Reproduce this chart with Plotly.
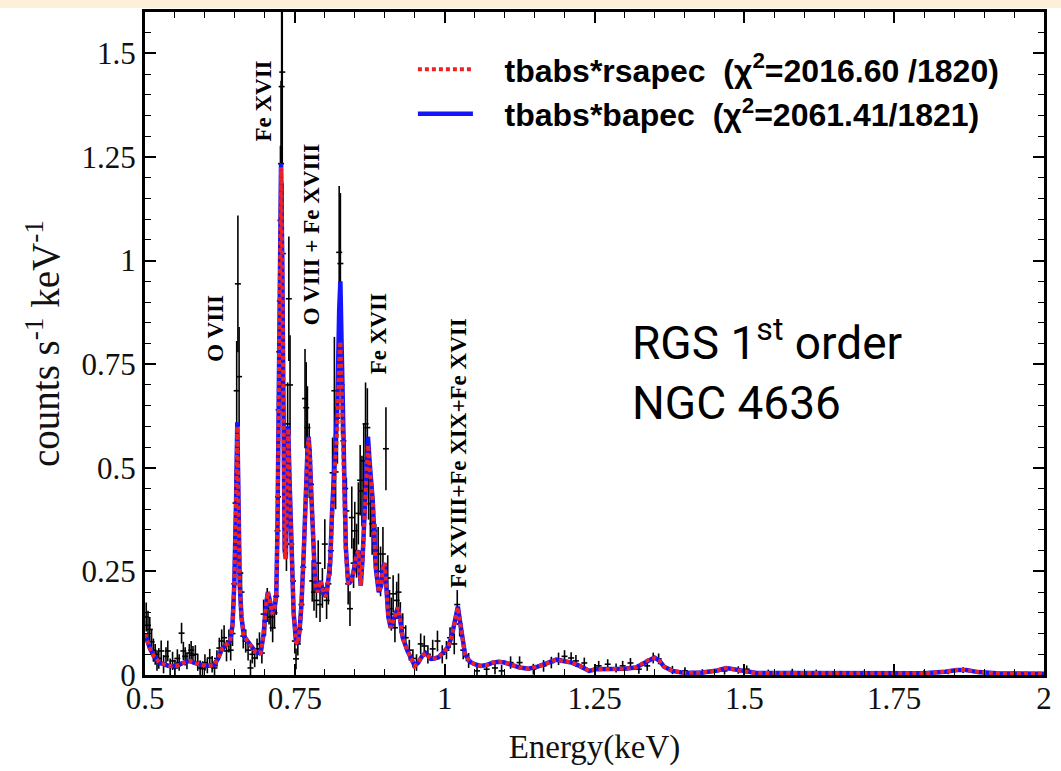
import plotly.graph_objects as go

# ---------------- data ----------------
model_energy = [0.500, 0.508, 0.515, 0.525, 0.540, 0.553, 0.565, 0.574, 0.585, 0.603,
                0.615, 0.622, 0.628, 0.636, 0.642, 0.646, 0.649, 0.652, 0.654, 0.656,
                0.658, 0.661, 0.665, 0.672, 0.680, 0.685, 0.693, 0.698, 0.702, 0.705,
                0.709, 0.712, 0.716, 0.719, 0.721, 0.723, 0.725, 0.727, 0.729, 0.731,
                0.733, 0.735, 0.737, 0.739, 0.741, 0.744, 0.748, 0.752, 0.755, 0.758,
                0.761, 0.765, 0.768, 0.771, 0.773, 0.775, 0.778, 0.781, 0.784, 0.788,
                0.793, 0.798, 0.802, 0.806, 0.809, 0.812, 0.815, 0.818, 0.821, 0.824,
                0.826, 0.828, 0.831, 0.835, 0.839, 0.844, 0.848, 0.852, 0.856, 0.860,
                0.863, 0.867, 0.870, 0.872, 0.875, 0.880, 0.885, 0.890, 0.894, 0.897,
                0.900, 0.903, 0.906, 0.910, 0.915, 0.919, 0.922, 0.926, 0.930, 0.938,
                0.945, 0.950, 0.956, 0.962, 0.968, 0.973, 0.977, 0.983, 0.990, 0.998,
                1.006, 1.012, 1.016, 1.020, 1.022, 1.025, 1.029, 1.034, 1.042, 1.050,
                1.060, 1.070, 1.080, 1.090, 1.100, 1.112, 1.125, 1.140, 1.155, 1.170,
                1.186, 1.200, 1.212, 1.225, 1.241, 1.252, 1.270, 1.285, 1.300, 1.319,
                1.332, 1.342, 1.350, 1.358, 1.366, 1.380, 1.400, 1.430, 1.455, 1.470,
                1.485, 1.500, 1.520, 1.560, 1.600, 1.650, 1.700, 1.750, 1.800, 1.835,
                1.855, 1.870, 1.890, 1.920, 1.960, 2.000]

model_rsapec = [0.099, 0.065, 0.045, 0.029, 0.022, 0.022, 0.030, 0.034, 0.028, 0.022,
                0.024, 0.040, 0.062, 0.075, 0.082, 0.120, 0.220, 0.420, 0.600, 0.420,
                0.220, 0.140, 0.094, 0.080, 0.062, 0.055, 0.053, 0.100, 0.170, 0.200,
                0.175, 0.147, 0.160, 0.190, 0.350, 0.600, 0.950, 1.225, 1.000, 0.600,
                0.300, 0.280, 0.450, 0.595, 0.480, 0.300, 0.150, 0.080, 0.075, 0.110,
                0.170, 0.300, 0.437, 0.540, 0.573, 0.530, 0.420, 0.300, 0.220, 0.200,
                0.227, 0.195, 0.190, 0.230, 0.270, 0.380, 0.460, 0.500, 0.600, 0.760,
                0.805, 0.700, 0.500, 0.300, 0.220, 0.227, 0.250, 0.283, 0.300, 0.215,
                0.280, 0.420, 0.530, 0.555, 0.500, 0.420, 0.260, 0.200, 0.215, 0.260,
                0.270, 0.200, 0.140, 0.114, 0.135, 0.155, 0.163, 0.130, 0.090, 0.058,
                0.035, 0.022, 0.030, 0.045, 0.053, 0.045, 0.039, 0.040, 0.043, 0.055,
                0.068, 0.095, 0.125, 0.160, 0.163, 0.135, 0.090, 0.050, 0.032, 0.026,
                0.022, 0.024, 0.030, 0.032, 0.030, 0.024, 0.018, 0.015, 0.020, 0.028,
                0.037, 0.033, 0.030, 0.022, 0.010, 0.014, 0.014, 0.013, 0.015, 0.018,
                0.028, 0.038, 0.041, 0.035, 0.020, 0.010, 0.005, 0.006, 0.011, 0.017,
                0.013, 0.008, 0.005, 0.005, 0.005, 0.004, 0.003, 0.003, 0.004, 0.008,
                0.012, 0.012, 0.007, 0.004, 0.003, 0.003]

model_bapec = [0.099, 0.065, 0.045, 0.029, 0.022, 0.022, 0.030, 0.034, 0.028, 0.022,
               0.024, 0.040, 0.062, 0.075, 0.082, 0.120, 0.220, 0.425, 0.610, 0.425,
               0.220, 0.140, 0.094, 0.080, 0.062, 0.055, 0.053, 0.100, 0.170, 0.200,
               0.175, 0.147, 0.160, 0.190, 0.350, 0.605, 0.960, 1.235, 1.005, 0.600,
               0.300, 0.280, 0.450, 0.600, 0.480, 0.300, 0.150, 0.080, 0.075, 0.110,
               0.170, 0.300, 0.437, 0.540, 0.575, 0.530, 0.420, 0.300, 0.220, 0.200,
               0.227, 0.195, 0.190, 0.230, 0.270, 0.390, 0.480, 0.520, 0.650, 0.880,
               0.950, 0.800, 0.550, 0.310, 0.220, 0.227, 0.250, 0.283, 0.300, 0.215,
               0.280, 0.425, 0.545, 0.575, 0.510, 0.420, 0.260, 0.200, 0.215, 0.260,
               0.270, 0.200, 0.140, 0.114, 0.135, 0.155, 0.163, 0.130, 0.090, 0.058,
               0.035, 0.022, 0.030, 0.045, 0.053, 0.045, 0.039, 0.040, 0.043, 0.055,
               0.068, 0.095, 0.125, 0.160, 0.165, 0.135, 0.090, 0.050, 0.032, 0.026,
               0.022, 0.024, 0.030, 0.032, 0.030, 0.024, 0.018, 0.015, 0.020, 0.028,
               0.037, 0.033, 0.030, 0.022, 0.010, 0.014, 0.014, 0.013, 0.015, 0.018,
               0.028, 0.038, 0.042, 0.035, 0.020, 0.010, 0.005, 0.006, 0.011, 0.017,
               0.013, 0.008, 0.005, 0.005, 0.005, 0.004, 0.003, 0.003, 0.004, 0.008,
               0.012, 0.012, 0.007, 0.004, 0.003, 0.003]

data_energy = [0.502, 0.505, 0.508, 0.511, 0.514, 0.517, 0.520, 0.523, 0.527, 0.531,
               0.535, 0.538, 0.542, 0.546, 0.550, 0.554, 0.557, 0.561, 0.564, 0.567,
               0.570, 0.574, 0.577, 0.580, 0.584, 0.588, 0.592, 0.596, 0.600, 0.604,
               0.608, 0.612, 0.616, 0.620, 0.624, 0.628, 0.632, 0.636, 0.640, 0.643,
               0.646, 0.649, 0.651, 0.653, 0.655, 0.657, 0.659, 0.661, 0.664, 0.668,
               0.672, 0.676, 0.679, 0.683, 0.687, 0.691, 0.695, 0.698, 0.701, 0.704,
               0.707, 0.710, 0.713, 0.716, 0.719, 0.721, 0.722, 0.723, 0.724, 0.725,
               0.726, 0.727, 0.728, 0.729, 0.730, 0.732, 0.734, 0.736, 0.738, 0.740,
               0.742, 0.744, 0.747, 0.750, 0.752, 0.755, 0.758, 0.761, 0.764, 0.767,
               0.769, 0.771, 0.774, 0.777, 0.779, 0.782, 0.786, 0.789, 0.792, 0.796,
               0.800, 0.803, 0.806, 0.810, 0.813, 0.816, 0.818, 0.821, 0.824, 0.826,
               0.828, 0.831, 0.834, 0.836, 0.839, 0.842, 0.845, 0.848, 0.850, 0.853,
               0.856, 0.859, 0.862, 0.865, 0.868, 0.871, 0.873, 0.876, 0.879, 0.882,
               0.885, 0.889, 0.893, 0.897, 0.902, 0.905, 0.908, 0.911, 0.914, 0.917,
               0.920, 0.923, 0.926, 0.930, 0.935, 0.941, 0.947, 0.953, 0.960, 0.966,
               0.972, 0.980, 0.988, 0.996, 1.003, 1.009, 1.016, 1.021, 1.025, 1.031,
               1.040, 1.054, 1.070, 1.084, 1.095, 1.110, 1.125, 1.148, 1.165, 1.178,
               1.190, 1.200, 1.211, 1.219, 1.233, 1.257, 1.272, 1.286, 1.297, 1.310,
               1.324, 1.338, 1.348, 1.357, 1.380, 1.401, 1.430, 1.467, 1.490, 1.504,
               1.540, 1.580, 1.620, 1.660, 1.700, 1.750, 1.800, 1.840, 1.865, 1.900,
               1.950, 1.990]

data_rate = [0.140, 0.120, 0.110, 0.080, 0.060, 0.050, 0.035, 0.040, 0.058, 0.026,
             0.045, 0.058, 0.020, 0.034, 0.017, 0.040, 0.030, 0.101, 0.058, 0.045,
             0.034, 0.053, 0.060, 0.048, 0.050, 0.030, 0.017, 0.015, 0.030, 0.022,
             0.041, 0.026, 0.017, 0.040, 0.065, 0.082, 0.090, 0.058, 0.082, 0.060,
             0.100, 0.220, 0.415, 0.686, 0.944, 0.720, 0.246, 0.200, 0.094, 0.082,
             0.060, 0.017, 0.050, 0.041, 0.063, 0.075, 0.053, 0.147, 0.130, 0.170,
             0.160, 0.140, 0.114, 0.150, 0.190, 0.348, 0.430, 0.640, 0.780, 0.903,
             1.097, 1.234, 1.420, 1.455, 1.017, 0.700, 0.355, 0.316, 0.606, 0.908,
             0.700, 0.316, 0.227, 0.082, 0.039, 0.075, 0.110, 0.170, 0.260, 0.667,
             0.645, 0.597, 0.517, 0.460, 0.227, 0.200, 0.180, 0.270, 0.170, 0.210,
             0.316, 0.180, 0.220, 0.300, 0.488, 0.686, 0.490, 0.620, 1.020, 0.993,
             0.700, 0.565, 0.450, 0.396, 0.220, 0.160, 0.380, 0.270, 0.348, 0.300,
             0.390, 0.470, 0.444, 0.517, 0.606, 0.597, 0.460, 0.413, 0.365, 0.348,
             0.300, 0.292, 0.250, 0.292, 0.546, 0.234, 0.160, 0.147, 0.196, 0.114,
             0.180, 0.200, 0.138, 0.114, 0.090, 0.060, 0.040, 0.030, 0.075, 0.070,
             0.050, 0.063, 0.082, 0.050, 0.060, 0.090, 0.075, 0.170, 0.123, 0.060,
             0.035, 0.010, 0.014, 0.017, 0.010, 0.030, 0.030, 0.014, 0.022, 0.030,
             0.039, 0.045, 0.041, 0.034, 0.029, 0.022, 0.026, 0.017, 0.022, 0.029,
             0.014, 0.022, 0.041, 0.039, 0.012, 0.010, 0.006, 0.010, 0.012, 0.014,
             0.006, 0.008, 0.006, 0.004, 0.005, 0.003, 0.006, 0.008, 0.012, 0.005,
             0.004, 0.003]

data_err = [0.035, 0.035, 0.030, 0.030, 0.028, 0.025, 0.025, 0.025, 0.025, 0.022,
            0.022, 0.025, 0.020, 0.022, 0.020, 0.022, 0.020, 0.025, 0.022, 0.022,
            0.020, 0.022, 0.022, 0.022, 0.022, 0.020, 0.018, 0.018, 0.020, 0.018,
            0.022, 0.020, 0.018, 0.020, 0.025, 0.028, 0.030, 0.025, 0.028, 0.025,
            0.030, 0.050, 0.080, 0.120, 0.165, 0.120, 0.060, 0.050, 0.030, 0.028,
            0.025, 0.020, 0.022, 0.022, 0.025, 0.028, 0.025, 0.035, 0.035, 0.040,
            0.038, 0.035, 0.035, 0.038, 0.045, 0.070, 0.080, 0.110, 0.130, 0.150,
            0.180, 0.200, 0.230, 0.230, 0.170, 0.120, 0.070, 0.065, 0.100, 0.150,
            0.120, 0.070, 0.050, 0.030, 0.025, 0.028, 0.032, 0.040, 0.055, 0.120,
            0.110, 0.100, 0.090, 0.085, 0.050, 0.045, 0.042, 0.055, 0.042, 0.048,
            0.060, 0.045, 0.050, 0.060, 0.085, 0.130, 0.090, 0.110, 0.160, 0.170,
            0.120, 0.100, 0.085, 0.080, 0.050, 0.042, 0.075, 0.060, 0.070, 0.065,
            0.075, 0.085, 0.085, 0.090, 0.100, 0.095, 0.085, 0.080, 0.075, 0.070,
            0.065, 0.065, 0.060, 0.065, 0.100, 0.055, 0.045, 0.040, 0.045, 0.035,
            0.045, 0.045, 0.038, 0.035, 0.030, 0.025, 0.022, 0.020, 0.025, 0.025,
            0.022, 0.022, 0.025, 0.022, 0.022, 0.025, 0.025, 0.035, 0.030, 0.022,
            0.018, 0.015, 0.015, 0.015, 0.014, 0.015, 0.015, 0.013, 0.014, 0.014,
            0.015, 0.015, 0.014, 0.014, 0.013, 0.012, 0.012, 0.011, 0.012, 0.012,
            0.011, 0.012, 0.013, 0.013, 0.010, 0.009, 0.008, 0.009, 0.009, 0.009,
            0.007, 0.007, 0.007, 0.006, 0.006, 0.006, 0.006, 0.006, 0.007, 0.006,
            0.005, 0.005]

bin_halfwidth = 0.005

line_labels = ["O VIII", "Fe XVII", "O VIII + Fe XVIII", "Fe XVII", "Fe XVIII+Fe XIX+Fe XVII"]
label_energy = [0.617, 0.697, 0.778, 0.890, 1.024]
label_level = [0.836, 1.384, 1.063, 0.824, 0.536]

legend_rsapec = "\u00a0\u00a0\u00a0tbabs*rsapec\u00a0\u00a0(\u03c7<sup>2</sup>=2016.60\u00a0/1820)"
legend_bapec = "\u00a0\u00a0\u00a0tbabs*bapec\u00a0\u00a0(\u03c7<sup>2</sup>=2061.41/1821)"

x_ticks = [0.5, 0.75, 1, 1.25, 1.5, 1.75, 2]
x_ticktext = ["0.5", "0.75", "1", "1.25", "1.5", "1.75", "2"]
y_ticks = [0, 0.25, 0.5, 0.75, 1, 1.25, 1.5]
y_ticktext = ["0", "0.25", "0.5", "0.75", "1", "1.25", "1.5"]

# ---------------- figure ----------------
fig = go.Figure()

fig.add_trace(go.Scatter(
    x=data_energy, y=data_rate, mode="markers",
    marker=dict(size=1, color="black"),
    error_y=dict(type="data", array=data_err, color="black", thickness=1.6, width=0),
    error_x=dict(type="constant", value=bin_halfwidth, color="black", thickness=1.6, width=0),
    showlegend=False, hoverinfo="skip"))

fig.add_trace(go.Scatter(
    x=model_energy, y=model_bapec, mode="lines",
    line=dict(color="#1414ff", width=4.5),
    name=legend_bapec, legendrank=2))

fig.add_trace(go.Scatter(
    x=model_energy, y=model_rsapec, mode="lines",
    line=dict(color="#ee2222", width=4, dash="4px,3px"),
    name=legend_rsapec, legendrank=1))

serif = "Liberation Serif, Times New Roman, serif"

for txt, ex, ey in zip(line_labels, label_energy, label_level):
    fig.add_annotation(x=ex, y=ey, xref="x", yref="y", text="<b>" + txt + "</b>",
                       textangle=-90, showarrow=False,
                       font=dict(family=serif, size=23, color="black"))

fig.add_annotation(x=1.31, y=0.735, xref="x", yref="y", xanchor="left", yanchor="middle",
                   align="left", showarrow=False,
                   text="RGS 1<sup>st</sup> order<br>NGC 4636",
                   font=dict(family="Roboto, sans-serif", size=46, color="black"))

axis_common = dict(
    showline=True, linecolor="black", linewidth=3, mirror="allticks",
    ticks="inside", tickcolor="black", tickwidth=1.5, ticklen=11,
    showgrid=False, zeroline=False,
    tickfont=dict(family=serif, size=31, color="#111111"),
)

fig.update_xaxes(
    range=[0.5, 2.0], tickvals=x_ticks, ticktext=x_ticktext, ticklabelstandoff=-6,
    minor=dict(dtick=0.05, tick0=0.5, ticks="inside", ticklen=6, tickcolor="black", tickwidth=1.2),
    title=dict(text="Energy(keV)", font=dict(family=serif, size=33, color="#111111"), standoff=20),
    **axis_common)

fig.update_yaxes(
    range=[0, 1.6], tickvals=y_ticks, ticktext=y_ticktext,
    minor=dict(dtick=0.05, tick0=0, ticks="inside", ticklen=6, tickcolor="black", tickwidth=1.2),
    title=dict(text="counts s<sup>-1</sup> keV<sup>-1</sup>",
               font=dict(family=serif, size=39, color="#111111"), standoff=10),
    **axis_common)

# thin cream band at the very top of the image
fig.add_shape(type="rect", xref="paper", yref="paper",
              x0=-0.2, x1=1.05, y0=1 + 4 / 663, y1=1 + 13 / 663,
              fillcolor="#fdf0d8", line=dict(width=0), layer="below")

fig.update_layout(
    width=1061, height=771,
    margin=dict(l=145, r=9, t=12, b=96),
    paper_bgcolor="white", plot_bgcolor="white",
    legend=dict(x=0.298, y=0.955, xanchor="left", yanchor="top",
                bgcolor="rgba(0,0,0,0)", itemwidth=55,
                font=dict(family="Liberation Sans, Arial, sans-serif", size=32, color="black", weight="bold"),
                tracegroupgap=0),
)

fig.write_html("out.html")
